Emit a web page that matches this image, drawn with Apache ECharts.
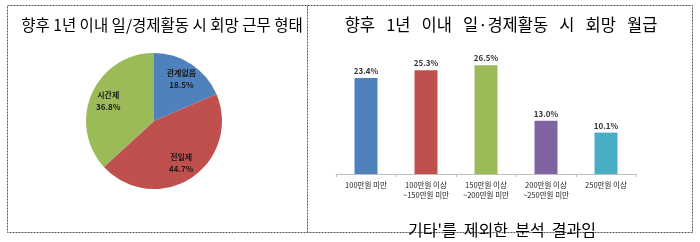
<!DOCTYPE html>
<html><head><meta charset="utf-8">
<script src="https://cdn.jsdelivr.net/npm/echarts@6/dist/echarts.min.js"></script>
<style>html,body{margin:0;padding:0;background:#fff}#c{width:700px;height:242px}</style>
</head><body><div id="c"></div>
<script>
const pieTitle = '향후 1년 이내 일/경제활동 시 회망 근무 형태';
const barTitle = '향후   1년   이내   일·경제활동   시   회망   월급';
const footNote = '기타\'를  제외한  분석  결과임';
const pieNames = ['관계없음', '전일제', '시간제'];
const pieValues = [18.5, 44.7, 36.8];
const pieColors = ['#4F81BD', '#C0504D', '#9BBB59'];
const barCategories = ['100만원 미만', '100만원 이상\n~150만원 미만', '150만원 이상\n~200만원 미만', '200만원 이상\n~250만원 미만', '250만원 이상'];
const barValues = [23.4, 25.3, 26.5, 13.0, 10.1];
const barColors = ['#4F81BD', '#C0504D', '#9BBB59', '#8064A2', '#4BACC6'];

const font = '"Noto Sans CJK KR", "Noto Sans", sans-serif';
const chart = echarts.init(document.getElementById('c'), null, {renderer: 'canvas'});
const pieData = pieNames.map((n, i) => ({name: n, value: pieValues[i], itemStyle: {color: pieColors[i]}}));
chart.setOption({
  animation: false,
  backgroundColor: '#fff',
  title: [
    {text: pieTitle, left: 157, top: 20, textAlign: 'center', textVerticalAlign: 'middle',
     textStyle: {fontFamily: font, fontSize: 15.5, fontWeight: 'normal', color: '#000'}},
    {text: barTitle, left: 496, top: 20, textAlign: 'center', textVerticalAlign: 'middle',
     textStyle: {fontFamily: font, fontSize: 16.5, fontWeight: 'normal', color: '#000'}},
    {text: footNote, left: 497, top: 225, textAlign: 'center', textVerticalAlign: 'middle',
     textStyle: {fontFamily: font, fontSize: 16, fontWeight: 'normal', color: '#000'}}
  ],
  graphic: [
    {type: 'rect', shape: {x: 7.5, y: 5.5, width: 685, height: 227}, silent: true,
     style: {fill: 'none', stroke: '#555', lineWidth: 1, lineDash: [2, 1]}},
    {type: 'line', shape: {x1: 307.5, y1: 5.5, x2: 307.5, y2: 232.5}, silent: true,
     style: {stroke: '#555', lineWidth: 1, lineDash: [2, 1]}}
  ],
  grid: {left: 336, right: 64, top: 51, bottom: 68},
  xAxis: {
    type: 'category', data: barCategories,
    axisLine: {lineStyle: {color: '#BFBFBF'}},
    axisTick: {show: true, length: 3, lineStyle: {color: '#BFBFBF'}},
    axisLabel: {fontFamily: font, fontSize: 7.5, color: '#222', lineHeight: 10, margin: 6, interval: 0}
  },
  yAxis: {type: 'value', min: 0, max: 30, show: false, splitLine: {show: false}},
  series: [
    {type: 'pie', center: [154, 121], radius: [0, 68], startAngle: 90, clockwise: true,
     data: pieData, label: {show: false}, labelLine: {show: false},
     itemStyle: {borderWidth: 0}},
    {type: 'pie', center: [154, 121], radius: [26, 68], startAngle: 90, clockwise: true,
     data: pieNames.map((n, i) => ({name: n, value: pieValues[i]})),
     itemStyle: {color: 'rgba(0,0,0,0)'}, emphasis: {disabled: true}, silent: true,
     label: {show: true, position: 'inside', fontFamily: font, fontSize: 8, fontWeight: 'bold', color: '#1a1a1a', lineHeight: 12,
       formatter: p => p.name + '\n' + p.value.toFixed(1) + '%'},
     labelLine: {show: false}},
    {type: 'bar', data: barValues.map((v, i) => ({value: v, itemStyle: {color: barColors[i]}})),
     barWidth: 23,
     label: {show: true, position: 'top', distance: 3, fontFamily: font, fontSize: 8, fontWeight: 'bold', color: '#333',
       formatter: p => p.value.toFixed(1) + '%'}}
  ]
});
</script></body></html>
